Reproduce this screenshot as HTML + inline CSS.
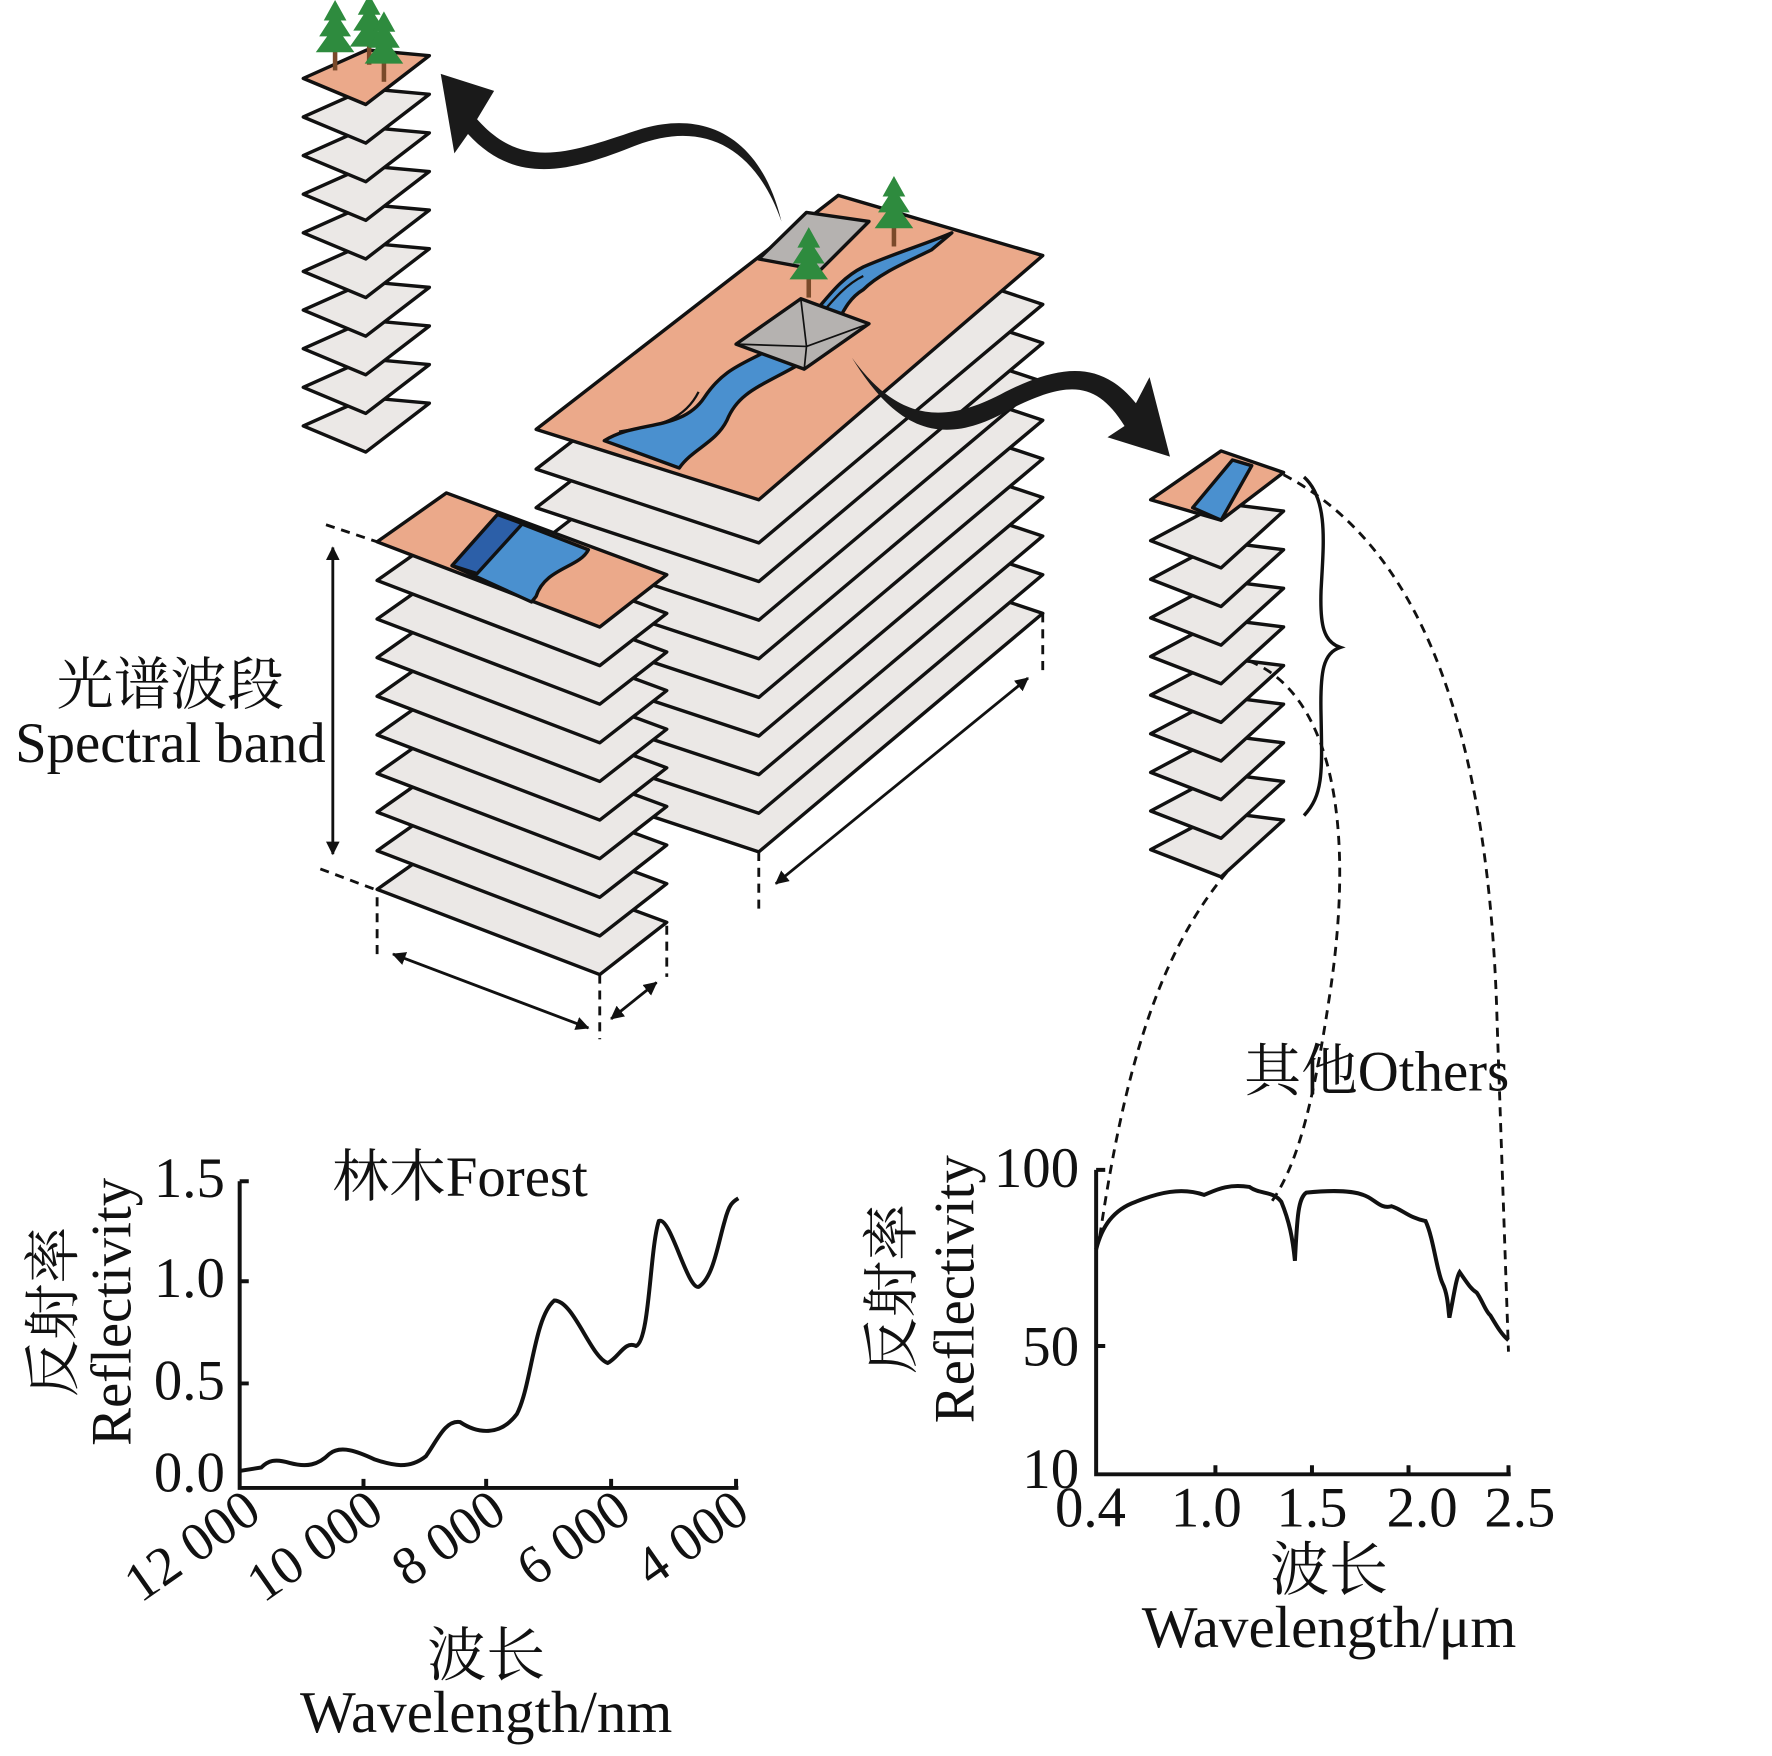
<!DOCTYPE html>
<html><head><meta charset="utf-8"><style>
html,body{margin:0;padding:0;background:#fff}
svg{display:block}
text{font-family:"Liberation Serif","Noto Serif CJK SC",serif;fill:#111}
</style></head><body>
<svg width="1772" height="1756" viewBox="0 0 1560 1546" preserveAspectRatio="none" xmlns="http://www.w3.org/2000/svg">
<defs>
<marker id="ah" markerWidth="12" markerHeight="12" refX="11" refY="6" orient="auto" markerUnits="userSpaceOnUse"><path d="M0,0 L12,6 L0,12 z" fill="#111"/></marker>
<marker id="as" markerWidth="12" markerHeight="12" refX="1" refY="6" orient="auto" markerUnits="userSpaceOnUse"><path d="M12,0 L0,6 L12,12 z" fill="#111"/></marker>
<g id="tree"><rect x="-2" y="0" width="4" height="22" fill="#7a4a2a"/><path d="M0,-40 L-10,-22 L-5,-22 L-14,-8 L-7,-8 L-17,6 L17,6 L7,-8 L14,-8 L5,-22 L10,-22 z" fill="#2e8b3e"/></g>
</defs>
<g stroke="#111" stroke-width="3" stroke-linejoin="round">
<g fill="#ebe8e6">
<path d="M267,375 L323,350 L378,355 L322,398 z"/>
<path d="M267,341 L323,316 L378,321 L322,364 z"/>
<path d="M267,307 L323,282 L378,287 L322,330 z"/>
<path d="M267,273 L323,248 L378,253 L322,296 z"/>
<path d="M267,239 L323,214 L378,219 L322,262 z"/>
<path d="M267,205 L323,180 L378,185 L322,228 z"/>
<path d="M267,171 L323,146 L378,151 L322,194 z"/>
<path d="M267,137 L323,112 L378,117 L322,160 z"/>
<path d="M267,103 L323,78 L378,83 L322,126 z"/>
</g>
<path d="M267,69 L323,44 L378,49 L322,92 z" fill="#eba98a"/>
<g fill="#ebe8e6">
<path d="M1013,748 L1075,715 L1130,722 L1075,772 z"/>
<path d="M1013,714 L1075,681 L1130,688 L1075,738 z"/>
<path d="M1013,680 L1075,647 L1130,654 L1075,704 z"/>
<path d="M1013,646 L1075,613 L1130,620 L1075,670 z"/>
<path d="M1013,612 L1075,579 L1130,586 L1075,636 z"/>
<path d="M1013,578 L1075,545 L1130,552 L1075,602 z"/>
<path d="M1013,544 L1075,511 L1130,518 L1075,568 z"/>
<path d="M1013,510 L1075,477 L1130,484 L1075,534 z"/>
<path d="M1013,476 L1075,443 L1130,450 L1075,500 z"/>
</g>
<path d="M1013,440 L1075,397 L1130,416 L1075,458 z" fill="#eba98a"/>
<path d="M1050,447 L1085,405 L1102,410 L1075,458 z" fill="#4a90cf"/>
<g fill="#ebe8e6">
<path d="M472,685 L738,480 L918,540 L668,750 z"/>
<path d="M472,651 L738,446 L918,506 L668,716 z"/>
<path d="M472,617 L738,412 L918,472 L668,682 z"/>
<path d="M472,583 L738,378 L918,438 L668,648 z"/>
<path d="M472,549 L738,344 L918,404 L668,614 z"/>
<path d="M472,515 L738,310 L918,370 L668,580 z"/>
<path d="M472,481 L738,276 L918,336 L668,546 z"/>
<path d="M472,447 L738,242 L918,302 L668,512 z"/>
<path d="M472,413 L738,208 L918,268 L668,478 z"/>
</g>
<path d="M472,378 L738,172 L918,225 L668,440 z" fill="#eba98a"/>
<path d="M532,388 C560,370 600,380 620,350 C640,320 660,320 690,300 C720,280 730,250 760,235 C790,222 815,215 838,205 L820,220 C800,230 775,240 760,255 C735,270 740,300 705,320 C670,340 650,345 640,370 C630,390 610,395 598,412 z" fill="#4a90cf"/>
<path d="M545,380 C570,375 600,375 615,345 M700,300 C720,285 735,255 760,243" fill="none" stroke-width="2"/>
<path d="M668,228 L710,187 L765,195 L722,238 z" fill="#b5b2b0"/>
<path d="M648,303 L705,263 L765,285 L708,325 z" fill="#b5b2b0"/>
<path d="M705,263 L710,305 L708,325 M648,303 L710,305 L765,285" fill="none" stroke-width="1.5"/>
<g fill="#ebe8e6">
<path d="M332,783 L393,740 L587,812 L528,858 z"/>
<path d="M332,749 L393,706 L587,778 L528,824 z"/>
<path d="M332,715 L393,672 L587,744 L528,790 z"/>
<path d="M332,681 L393,638 L587,710 L528,756 z"/>
<path d="M332,647 L393,604 L587,676 L528,722 z"/>
<path d="M332,613 L393,570 L587,642 L528,688 z"/>
<path d="M332,579 L393,536 L587,608 L528,654 z"/>
<path d="M332,545 L393,502 L587,574 L528,620 z"/>
<path d="M332,511 L393,468 L587,540 L528,586 z"/>
</g>
<path d="M332,477 L393,434 L587,506 L528,552 z" fill="#eba98a"/>
<path d="M398,498 L438,453 L518,484 C510,500 480,500 472,525 L468,530 z" fill="#4a90cf"/>
<path d="M398,498 L438,453 L460,461 L420,505 z" fill="#2c5fa8"/>
</g>
<use href="#tree" x="295" y="40"/><use href="#tree" x="325" y="35"/><use href="#tree" x="338" y="50"/>
<use href="#tree" x="787" y="195"/><use href="#tree" x="712" y="240"/>
<path d="M688,195 C670,120 620,95 560,115 C500,135 460,150 420,105 L435,80 L388,65 L400,135 L412,118 C455,165 505,150 560,128 C620,105 665,130 688,195 z" fill="#1a1a1a"/>
<path d="M750,315 C790,380 830,395 890,360 C940,335 965,335 990,375 L975,385 L1030,402 L1012,332 L1000,355 C970,318 935,320 885,345 C830,375 790,370 750,315 z" fill="#1a1a1a"/>
<g stroke="#111" stroke-width="2.5" fill="none">
<line x1="293" y1="482" x2="293" y2="752" marker-start="url(#as)" marker-end="url(#ah)"/>
<line x1="346" y1="840" x2="518" y2="905" marker-start="url(#as)" marker-end="url(#ah)"/>
<line x1="538" y1="897" x2="578" y2="865" marker-start="url(#as)" marker-end="url(#ah)"/>
<line x1="683" y1="778" x2="905" y2="597" marker-start="url(#as)" marker-end="url(#ah)"/>
<g stroke-dasharray="8,6">
<line x1="287" y1="462" x2="335" y2="478"/><line x1="282" y1="765" x2="330" y2="783"/>
<line x1="332" y1="790" x2="332" y2="840"/><line x1="528" y1="858" x2="528" y2="915"/>
<line x1="587" y1="815" x2="587" y2="860"/><line x1="668" y1="750" x2="668" y2="800"/>
<line x1="918" y1="540" x2="918" y2="590"/>
<path d="M1130,418 C1230,470 1310,600 1318,900 L1328,1190"/>
<path d="M1100,582 C1170,610 1195,720 1170,880 C1155,980 1140,1030 1118,1060"/>
<path d="M1080,768 C1020,840 990,940 968,1090"/>
</g>
<path d="M1148,420 C1170,440 1165,480 1163,520 C1162,550 1165,565 1180,570 C1165,575 1162,590 1163,630 C1164,680 1165,700 1148,718" stroke-width="3"/>
</g>
<text x="150" y="620" font-size="50" text-anchor="middle">光谱波段</text>
<text x="150" y="671" font-size="50" text-anchor="middle">Spectral band</text>
<text x="1212" y="960" font-size="50" text-anchor="middle">其他Others</text>
<text x="405" y="1053" font-size="50" text-anchor="middle">林木Forest</text>
<g stroke="#111" stroke-width="3.5" fill="none">
<path d="M211,1040 L211,1310 L650,1310"/>
<path d="M211,1040 h8 M211,1128 h8 M211,1218 h8 M320,1310 v-8 M428,1310 v-8 M538,1310 v-8 M648,1310 v-8"/>
<path d="M211,1295 L230,1292 C236,1286 242,1284 255,1288 C270,1292 280,1290 290,1280 C300,1272 315,1278 330,1285 C345,1290 360,1294 375,1282 C385,1268 392,1250 405,1252 C420,1262 440,1265 455,1245 C468,1220 470,1160 488,1145 C505,1145 520,1195 535,1200 C545,1195 550,1180 560,1185 C572,1180 572,1100 580,1075 C590,1070 605,1135 615,1133 C628,1125 632,1095 638,1075 C642,1060 645,1058 650,1055"/>
</g>
<g font-size="50" text-anchor="end"><text x="198" y="1054">1.5</text><text x="198" y="1142">1.0</text><text x="198" y="1232">0.5</text><text x="198" y="1313">0.0</text></g>
<g font-size="48" text-anchor="end">
<text transform="translate(232,1336) rotate(-35)">12 000</text>
<text transform="translate(340,1336) rotate(-35)">10 000</text>
<text transform="translate(448,1336) rotate(-35)">8 000</text>
<text transform="translate(558,1336) rotate(-35)">6 000</text>
<text transform="translate(662,1336) rotate(-35)">4 000</text>
</g>
<text transform="translate(64,1155) rotate(-90)" font-size="50" text-anchor="middle">反射率</text>
<text transform="translate(115,1155) rotate(-90)" font-size="50" text-anchor="middle">Reflectivity</text>
<text x="428" y="1475" font-size="52" text-anchor="middle">波长</text>
<text x="428" y="1525" font-size="52" text-anchor="middle">Wavelength/nm</text>
<g stroke="#111" stroke-width="3.5" fill="none">
<path d="M965,1030 L965,1298 L1330,1298"/>
<path d="M965,1030 h8 M965,1185 h8 M1070,1298 v-8 M1155,1298 v-8 M1240,1298 v-8 M1328,1298 v-8"/>
<path d="M965,1100 C970,1080 980,1065 1000,1058 C1020,1050 1040,1045 1060,1052 C1070,1048 1080,1042 1100,1045 C1110,1052 1120,1048 1128,1058 C1135,1075 1138,1090 1140,1110 C1142,1070 1143,1055 1150,1050 C1170,1048 1190,1048 1200,1052 C1210,1055 1215,1065 1225,1062 C1235,1065 1240,1072 1255,1075 C1262,1090 1265,1120 1270,1130 C1275,1140 1275,1155 1276,1160 C1280,1140 1282,1125 1285,1120 C1292,1130 1295,1135 1300,1138 C1305,1145 1308,1155 1312,1158 C1318,1168 1322,1175 1328,1180"/>
</g>
<g font-size="50" text-anchor="end"><text x="950" y="1045">100</text><text x="950" y="1202">50</text><text x="950" y="1310">10</text></g>
<g font-size="50" text-anchor="middle"><text x="960" y="1344">0.4</text><text x="1062" y="1344">1.0</text><text x="1155" y="1344">1.5</text><text x="1252" y="1344">2.0</text><text x="1338" y="1344">2.5</text></g>
<text transform="translate(802,1135) rotate(-90)" font-size="50" text-anchor="middle">反射率</text>
<text transform="translate(857,1135) rotate(-90)" font-size="50" text-anchor="middle">Reflectivity</text>
<text x="1170" y="1400" font-size="52" text-anchor="middle">波长</text>
<text x="1170" y="1450" font-size="52" text-anchor="middle">Wavelength/μm</text>
</svg>
</body></html>
